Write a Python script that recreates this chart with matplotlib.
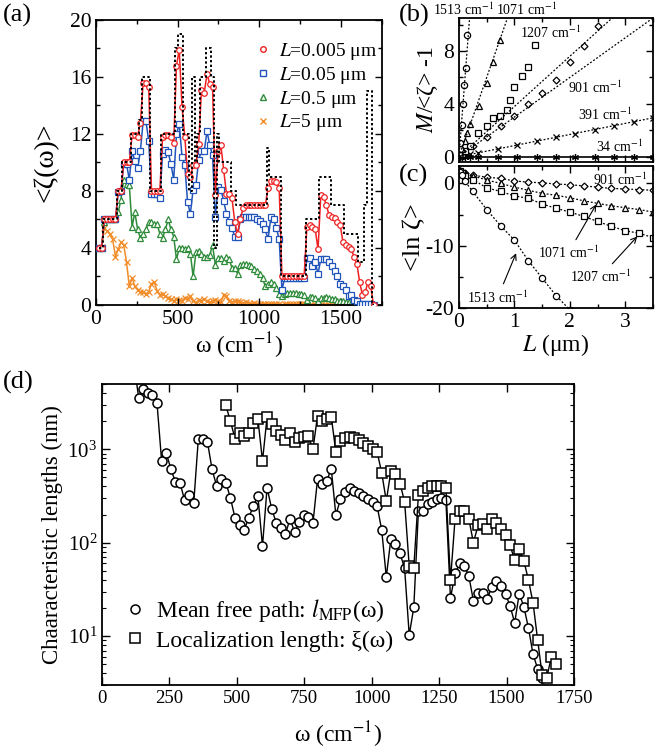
import matplotlib
matplotlib.use("Agg")
from matplotlib import pyplot as plt
from matplotlib.lines import Line2D
from matplotlib.ticker import MultipleLocator, LogLocator, NullFormatter

plt.rcParams['font.family'] = ['Liberation Serif', 'DejaVu Serif']
plt.rcParams['mathtext.fontset'] = 'stix'
plt.rcParams['axes.unicode_minus'] = False
plt.rcParams['xtick.direction'] = 'in'
plt.rcParams['ytick.direction'] = 'in'
plt.rcParams['xtick.top'] = True
plt.rcParams['ytick.right'] = True
plt.rcParams['axes.linewidth'] = 1.3

# ---- panel (a): <zeta(omega)> on the 17 cm-1 grid ----
w_a = list(range(17, 1701, 17))

zeta_M = [4, 4, 6, 6, 6, 6, 6, 8, 8, 10,
          10, 10, 12, 12, 12, 13, 16, 16, 16, 8,
          8, 8, 8, 12, 12, 12, 12, 12, 18, 19,
          19, 12, 12, 8, 16, 10, 12, 16, 16, 18,
          18, 16, 4, 12, 10, 10, 10, 10, 8, 8,
          7, 7, 7, 7, 7, 7, 7, 7, 7, 7,
          7, 11, 9, 9, 9, 9, 2, 2, 2, 2,
          2, 2, 2, 2, 2, 6, 6, 6, 6, 6,
          9, 9, 9, 9, 7, 7, 7, 7, 7, 5,
          5, 5, 5, 5, 3, 3, 7, 15, 15, 0]

zeta_005 = [4.0, 4.0, 6.0, 6.0, 6.0, 6.0, 6.0, 8.0, 8.0, 10.0,
            10.0, 10.0, 11.9, 11.9, 11.8, 12.8, 15.6, 15.6, 15.3, 8.0,
            8.0, 8.0, 8.0, 11.8, 11.9, 11.9, 11.8, 11.4, 16.8, 17.9,
            13.9, 11.8, 9.2, 9.0, 9.8, 9.8, 11.3, 15.1, 14.9, 16.2,
            15.5, 15.3, 7.7, 10.8, 11.2, 9.5, 7.8, 7.8, 7.5, 5.8,
            5.0, 6.0, 6.8, 7.0, 7.0, 7.0, 7.0, 7.0, 7.0, 7.0,
            7.0, 8.2, 8.7, 8.7, 8.6, 8.2, 2.05, 2.05, 2.05, 2.05,
            2.05, 2.05, 2.05, 2.05, 2.05, 5.5, 5.6, 5.5, 5.3, 3.9,
            7.7, 7.6, 7.0, 6.3, 6.2, 6.1, 5.85, 5.6, 4.4, 4.2,
            4.1, 3.9, 3.4, 2.9, 1.6, 0.7, 0.9, 1.6, 1.3, 0.0]

zeta_05 = [4.0, 4.0, 6.0, 6.0, 6.0, 6.0, 6.0, 7.9, 8.0, 9.9,
           9.9, 8.8, 10.8, 10.1, 9.6, 10.8, 12.9, 12.9, 11.5, 7.8,
           7.8, 7.8, 7.5, 10.6, 10.9, 10.7, 9.9, 8.8, 12.0, 12.7,
           10.4, 9.8, 7.2, 6.4, 8.1, 8.4, 10.2, 10.8, 10.8, 12.2,
           11.2, 10.5, 6.2, 8.3, 8.1, 7.3, 6.4, 5.8, 5.4, 4.8,
           4.8, 6.0, 6.15, 6.2, 6.2, 6.2, 6.15, 6.0, 5.9, 5.7,
           5.3, 4.6, 6.15, 6.0, 5.4, 4.6, 1.05, 1.9, 1.9, 1.9,
           1.9, 1.9, 1.9, 1.9, 1.9, 3.3, 3.3, 2.7, 3.0, 2.2,
           3.2, 3.2, 3.2, 3.0, 2.7, 2.4, 2.0, 1.5, 1.3, 1.05,
           0.6, 0.7, 0.35, 0.25, 0.1, 0.1, 0.1, 0.05, 0.05, 0.0]

zeta_5 = [4.0, 4.0, 5.8, 6.0, 6.0, 6.0, 6.0, 6.5, 7.4, 8.8,
          8.5, 8.4, 5.5, 6.5, 5.3, 4.7, 5.0, 5.3, 5.85, 5.85,
          5.7, 5.7, 5.0, 4.7, 5.3, 6.0, 5.3, 4.8, 3.2, 4.0,
          4.0, 3.9, 4.0, 3.6, 2.0, 3.7, 3.8, 3.6, 3.4, 3.4,
          3.5, 4.2, 2.8, 3.3, 3.3, 3.1, 3.4, 3.2, 2.6, 2.6,
          2.2, 2.8, 2.85, 2.85, 2.8, 2.7, 2.55, 2.4, 2.2, 1.9,
          1.3, 1.5, 1.6, 1.5, 1.2, 0.8, 0.6, 0.8, 0.85, 0.85,
          0.85, 0.85, 0.8, 0.75, 0.7, 0.35, 0.55, 0.55, 0.5, 0.25,
          0.5, 0.5, 0.55, 0.5, 0.45, 0.4, 0.3, 0.3, 0.25, 0.2,
          0.2, 0.15, 0.15, 0.1, 0.1, 0.05, 0.05, 0.05, 0.02, 0.0]

zeta_50 = [4.0, 4.1, 5.4, 5.2, 5.0, 4.6, 3.4, 3.9, 4.4, 4.2,
           3.0, 1.3, 1.9, 1.3, 1.05, 0.9, 0.9, 0.8, 0.9, 1.5,
           1.6, 1.0, 0.7, 0.8, 0.6, 0.5, 0.4, 0.3, 0.4, 0.35,
           0.3, 0.5, 0.45, 0.6, 0.3, 0.15, 0.35, 0.3, 0.4, 0.25,
           0.2, 0.3, 0.35, 0.25, 0.2, 0.7, 0.6, 0.3, 0.2, 0.3,
           0.25, 0.2, 0.15, 0.2, 0.15, 0.1, 0.15, 0.1, 0.1, 0.1,
           0.1, 0.05, 0.1, 0.1, 0.05, 0.05, 0.02, 0.05, 0.05, 0.05,
           0.05, 0.05, 0.05, 0.05, 0.05, 0.02, 0.03, 0.03, 0.02, 0.01,
           0.03, 0.03, 0.03, 0.02, 0.02, 0.02, 0.02, 0.01, 0.01, 0.01,
           0.01, 0.01, 0.01, 0.0, 0.0, 0.0, 0.0, 0.0, 0.0, 0.0]

a_labels = ['$L$=0.005 μm', '$L$=0.05 μm', '$L$=0.5 μm', '$L$=5 μm']
a_colors = ['#ee2222', '#2255bb', '#2e8b3a', '#f28c28']
a_markers = ['o', 's', '^', 'x']

# ---- panel (b): M/<zeta> - 1 vs L ----
b_L_34 = [0.02, 0.05, 0.1, 0.2, 0.35, 0.7, 1.05, 1.4, 1.75, 2.1, 2.45, 2.8, 3.15, 3.5]
b_34 = [0, 0, 0, 0, 0, 0, 0, 0, 0, 0, 0, 0, 0, 0]
b_391 = [0.02, 0.04, 0.08, 0.17, 0.3, 0.6, 0.9, 1.2, 1.5, 1.75, 2.05, 2.35, 2.65, 2.9]
b_L_901 = [0.02, 0.05, 0.1, 0.25, 0.5, 0.75, 1.0, 1.25, 1.5, 1.75, 2.0, 2.25, 2.5]
b_901 = [0.05, 0.15, 0.3, 0.8, 1.5, 2.3, 3.1, 4.0, 4.85, 5.8, 7.2, 8.4, 9.9]
b_L_1207 = [0.02, 0.05, 0.1, 0.2, 0.35, 0.5, 0.61, 0.74, 0.86, 0.92, 0.99, 1.13, 1.24, 1.37]
b_1207 = [0.1, 0.2, 0.4, 0.8, 1.8, 2.3, 2.9, 3.1, 3.5, 4.3, 5.3, 6.1, 6.8, 8.45]
b_L_1071 = [0.02, 0.05, 0.1, 0.15, 0.2, 0.37, 0.5, 0.62, 0.74]
b_1071 = [0.2, 0.6, 1.2, 1.8, 2.5, 3.8, 5.6, 7.2, 8.8]
b_L_1513 = [0.005, 0.01, 0.02, 0.05, 0.07, 0.09, 0.12, 0.15]
b_1513 = [0.3, 0.6, 1.0, 2.4, 4.0, 5.4, 6.7, 9.2]
b_slopes = [0.84, 3.0, 3.8, 12.0, 55.0]   # 391, 901, 1207, 1071, 1513

# ---- panel (c): <ln zeta> vs L ----
c_L = [0.02, 0.05, 0.1, 0.25, 0.5, 0.75, 1.0, 1.25, 1.5, 1.75, 2.0, 2.25,
       2.5, 2.75, 3.0, 3.25, 3.5]
c_901 = [1.9, 1.8, 1.6, 1.3, 1.0, 0.8, 0.4, 0.2, 0.1, -0.1, -0.2, -0.4,
         -0.6, -0.8, -0.9, -1.0, -1.1]
c_1071 = [2.1, 1.9, 1.7, 1.2, 0.55, 0.0, -0.6, -1.1, -1.6, -1.9, -2.3, -2.8,
          -3.2, -3.6, -3.9, -4.2, -4.6]
c_1207 = [2.0, 1.7, 1.2, 0.6, -0.7, -1.3, -2.0, -2.4, -3.3, -4.0, -4.6, -5.3,
          -6.1, -6.9, -7.6, -8.0, -8.7]
c_L_1513 = [0.02, 0.05, 0.1, 0.25, 0.5, 0.75, 1.0, 1.25, 1.5, 1.75, 2.0]
c_1513 = [1.8, 1.3, 0.4, -1.3, -4.2, -6.8, -9.1, -12.4, -15.2, -18.0, -20.3]

# ---- panel (d): characteristic lengths (nm) ----
w_mfp = list(range(119, 1633, 17))
l_mfp = [8000,
         3580, 4470, 4050, 3790, 3110,
         750, 920, 621, 447, 440, 287, 321, 264,
         1280, 1280, 1198, 611, 405, 477, 440, 303, 185, 153,
         137, 185, 247, 316, 92, 388, 231, 164, 145, 123,
         181, 130, 166, 198, 188, 161, 477, 422, 458, 621,
         198, 291, 349, 382, 358, 338, 316, 291, 275, 247,
         137, 43, 110, 97, 77, 53, 10.3, 20.3, 218, 218,
         258, 273, 291, 303, 285, 25.5, 47, 60, 57, 44,
         23.9, 29, 29, 24.7, 33.8, 38.8, 34.3, 28.5, 21, 13.9,
         28.6, 20.6, 12.3, 6.4, 4.5, 3.6]
w_loc = list(range(459, 1684, 17))
xi_loc = [2960, 2010, 1300, 1510,
          1390, 1510, 1930, 2130, 750, 2220, 1880, 1570, 1410, 1260,
          1510, 1200, 1330, 1370, 1390, 1000, 2280, 2010, 2130, 2240,
          936, 1230, 1330, 1360, 1330, 1250, 1180, 1090, 1020, 936,
          562, 279, 586, 540, 429, 275, 56, 54, 321, 358,
          388, 405, 405, 405, 388, 39.5, 181, 218, 218, 181,
          100, 153, 157, 139, 178, 161, 141, 120, 94, 65,
          86, 64, 40, 22.8, 9.2, 3.8, 3.6, 6.0, 5.0]

fig = plt.figure(figsize=(6.68, 7.53), dpi=100)
ax_a = fig.add_axes([0.1437, 0.5950, 0.4277, 0.3785])
ax_b = fig.add_axes([0.6871, 0.7849, 0.2904, 0.1912])
ax_c = fig.add_axes([0.6871, 0.5910, 0.2904, 0.1886])
ax_d = fig.add_axes([0.1527, 0.0903, 0.7066, 0.3997])

for ax in (ax_a, ax_b, ax_c):
    ax.tick_params(which='major', length=5, width=1, labelsize=15.5)
    ax.tick_params(which='minor', length=3, width=1)
ax_d.tick_params(which='major', length=6, width=1, labelsize=13.5)
ax_d.tick_params(which='minor', length=3, width=0.8)

# (a)
ax_a.plot(w_a, zeta_M, ls=(0, (1.2, 1.2)), color='k', lw=1.4, drawstyle='steps-mid', zorder=5)
series = [zeta_005, zeta_05, zeta_5, zeta_50]
for vals, col, mk, z in zip(series, a_colors, a_markers, [4, 3, 2, 1]):
    ax_a.plot(w_a, vals, color=col, lw=1.1, marker=mk, ms=4, mfc='white',
              mec=col, mew=0.9, zorder=z)
handles = [Line2D([], [], ls='none', marker=mk, color=col, mfc='white', ms=4, mew=1)
           for mk, col in zip(a_markers, a_colors)]
ax_a.legend(handles, a_labels, loc='upper left', bbox_to_anchor=(0.51, 0.975),
            frameon=False, fontsize=14, handlelength=0.8, handletextpad=0.4,
            labelspacing=0.15, borderpad=0.2)
ax_a.set_xlim(0, 1750)
ax_a.set_ylim(0, 20)
ax_a.xaxis.set_major_locator(MultipleLocator(500))
ax_a.xaxis.set_minor_locator(MultipleLocator(250))
ax_a.yaxis.set_major_locator(MultipleLocator(4))
ax_a.yaxis.set_minor_locator(MultipleLocator(2))
ax_a.set_xlabel('ω (cm$^{-1}$)', fontsize=17, labelpad=1)
ax_a.set_ylabel('<ζ(ω)>', fontsize=20, labelpad=8)

# (b)
ax_b.axhline(0, color='k', lw=1.2)
ax_b.plot(b_L_34, b_34, ls='none', marker=(6, 2, 0), ms=5, color='k', mew=0.9)
ax_b.plot(b_L_34, b_391, ls='none', marker='x', ms=4, color='k', mew=0.9)
ax_b.plot(b_L_901, b_901, ls='none', marker='D', ms=3.5, mfc='white', mec='k', mew=0.9)
ax_b.plot(b_L_1207, b_1207, ls='none', marker='s', ms=4.5, mfc='white', mec='k', mew=0.9)
ax_b.plot(b_L_1071, b_1071, ls='none', marker='^', ms=4.5, mfc='white', mec='k', mew=0.9)
ax_b.plot(b_L_1513, b_1513, ls='none', marker='o', ms=4.5, mfc='white', mec='k', mew=0.9)
for s in b_slopes:
    ax_b.axline((0, 0), slope=s, ls=(0, (1.5, 1.5)), color='k', lw=0.9)
ax_b.set_xlim(0, 3.5)
ax_b.set_ylim(-0.4, 10.5)
ax_b.xaxis.set_major_locator(MultipleLocator(1))
ax_b.xaxis.set_minor_locator(MultipleLocator(0.5))
ax_b.yaxis.set_major_locator(MultipleLocator(4))
ax_b.yaxis.set_minor_locator(MultipleLocator(2))
ax_b.tick_params(labelbottom=False)
ax_b.set_ylabel('$M$/<ζ> -1', fontsize=17, labelpad=2)
bkw = dict(fontsize=10, ha='center', va='center', clip_on=False)
ax_b.text(0.08, 11.15, '1513 cm$^{-1}$', **bkw)
ax_b.text(1.22, 11.15, '1071 cm$^{-1}$', **bkw)
ax_b.text(1.65, 9.35, '1207 cm$^{-1}$', **bkw)
ax_b.text(2.46, 5.2, '901 cm$^{-1}$', **bkw)
ax_b.text(2.64, 3.2, '391 cm$^{-1}$', **bkw)
ax_b.text(2.9, 0.75, '34 cm$^{-1}$', **bkw)

# (c)
mk_kw = dict(ls=(0, (1.5, 1.5)), lw=0.9, color='k', mfc='white', mec='k', mew=0.9)
ax_c.plot(c_L, c_901, marker='D', ms=3.5, **mk_kw)
ax_c.plot(c_L, c_1071, marker='^', ms=4.5, **mk_kw)
ax_c.plot(c_L, c_1207, marker='s', ms=4.5, **mk_kw)
ax_c.plot(c_L_1513, c_1513, marker='o', ms=4.5, **mk_kw)
ax_c.set_xlim(0, 3.5)
ax_c.set_ylim(-20, 2.8)
ax_c.xaxis.set_major_locator(MultipleLocator(1))
ax_c.xaxis.set_minor_locator(MultipleLocator(0.5))
ax_c.yaxis.set_major_locator(MultipleLocator(10))
ax_c.yaxis.set_minor_locator(MultipleLocator(5))
ax_c.set_xlabel('$L$ (μm)', fontsize=17, labelpad=0)
ax_c.set_ylabel('<ln ζ>', fontsize=19, labelpad=0)
akw = dict(fontsize=10, ha='center', va='center',
           arrowprops=dict(arrowstyle='->', color='k', lw=0.8))
ax_c.text(2.9, 0.6, '901 cm$^{-1}$', fontsize=10, ha='center', va='center')
ax_c.annotate('1071 cm$^{-1}$', xy=(2.5, -3.0), xytext=(1.97, -11.2), **akw)
ax_c.annotate('1207 cm$^{-1}$', xy=(3.25, -8.2), xytext=(2.55, -15.0), **akw)
ax_c.annotate('1513 cm$^{-1}$', xy=(1.05, -10.8), xytext=(0.7, -18.3), **akw)

# (d)
ax_d.plot(w_mfp, l_mfp, color='k', lw=1, marker='o', ms=6.5, mfc='white', mec='k',
          mew=1.1)
ax_d.plot(w_loc, xi_loc, color='k', lw=1, marker='s', ms=6.5, mfc='white', mec='k',
          mew=1.1)
ax_d.set_yscale('log')
ax_d.set_xlim(0, 1750)
ax_d.set_ylim(3, 5000)
ax_d.xaxis.set_major_locator(MultipleLocator(250))
ax_d.yaxis.set_major_locator(LogLocator(base=10))
ax_d.yaxis.set_minor_locator(LogLocator(base=10, subs=range(2, 10)))
ax_d.yaxis.set_minor_formatter(NullFormatter())
ax_d.tick_params(axis='y', which='major', labelsize=15)
dh = [Line2D([], [], ls='none', marker='o', ms=6.5, mfc='white', mec='k', mew=1.1),
      Line2D([], [], ls='none', marker='s', ms=6.5, mfc='white', mec='k', mew=1.1)]
ax_d.legend(dh, ['Mean free path: $l_{\\rm MFP}$(ω)', 'Localization length: ξ(ω)'],
            loc='lower left', bbox_to_anchor=(0.0, 0.04), frameon=False, fontsize=17,
            handlelength=1.0, handletextpad=0.4, labelspacing=0.25)
ax_d.set_xlabel('ω (cm$^{-1}$)', fontsize=17, labelpad=9)
ax_d.set_ylabel('Chaaracteristic lengths (nm)', fontsize=16.5, labelpad=3)

fig.text(0.004, 0.995, '(a)', fontsize=19, va='top')
fig.text(0.597, 0.995, '(b)', fontsize=19, va='top')
fig.text(0.597, 0.782, '(c)', fontsize=19, va='top')
fig.text(0.004, 0.508, '(d)', fontsize=19, va='top')

fig.savefig('out.png', dpi=100)
